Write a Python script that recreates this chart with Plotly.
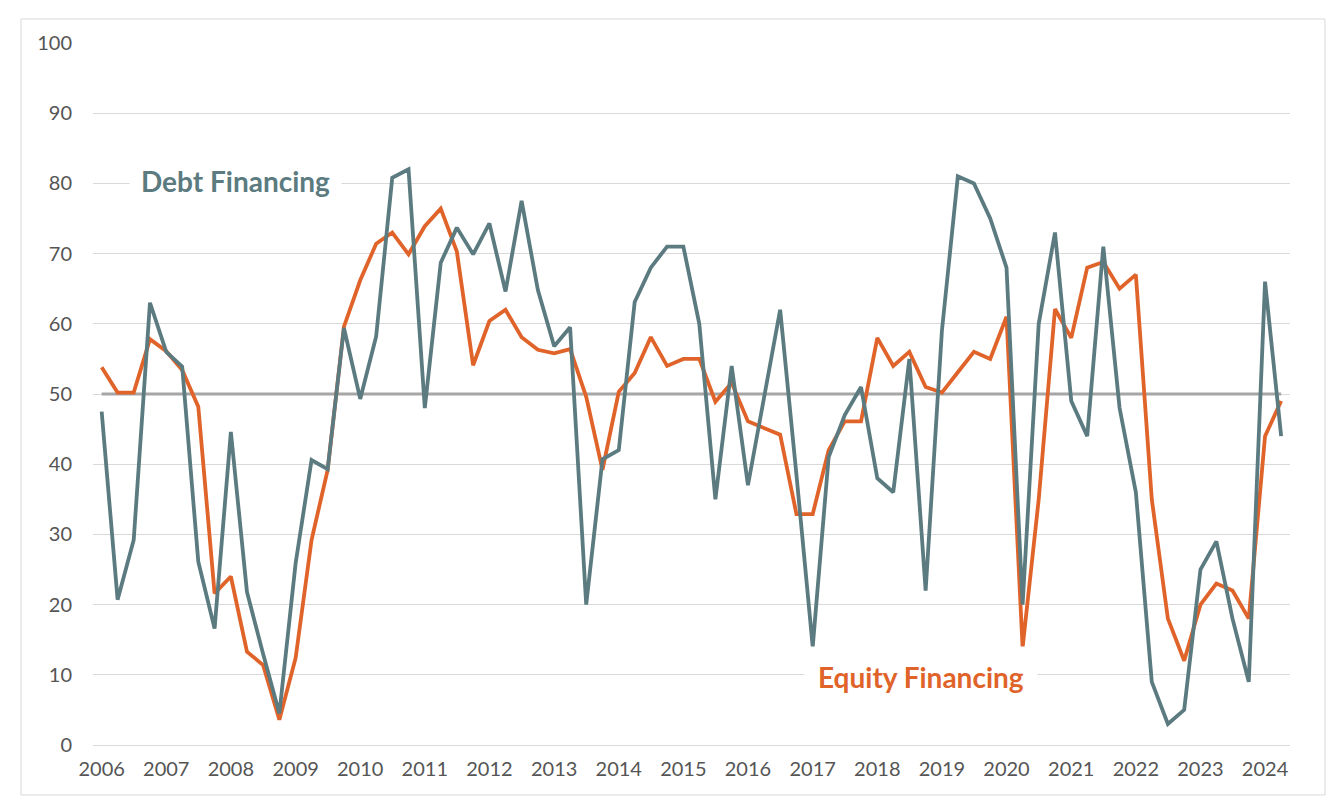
import pandas as pd
import plotly.graph_objects as go

# quarterly survey readings, 2006 Q1 .. 2024 Q2
quarters = pd.date_range("2006-01-01", periods=74, freq="QS")

debt_financing = [
    47.5, 20.7, 29.2, 63.0, 56.0, 53.9, 26.1, 16.6, 44.6, 21.8,
    13.0, 4.5, 25.9, 40.6, 39.3, 59.4, 49.3, 58.2, 80.8, 82.0,
    48.0, 68.7, 73.7, 69.9, 74.3, 64.6, 77.5, 64.8, 56.8, 59.5,
    20.0, 40.7, 42.0, 63.1, 68.0, 71.0, 71.0, 60.0, 35.0, 54.0,
    37.0, 49.5, 62.0, 38.5, 14.0, 41.0, 47.0, 51.0, 38.0, 36.0,
    55.0, 22.0, 59.0, 81.0, 80.0, 75.0, 68.0, 20.0, 60.0, 73.0,
    49.0, 44.0, 71.0, 48.0, 36.0, 9.0, 3.0, 5.0, 25.0, 29.0,
    18.0, 9.0, 66.0, 44.0,
]

equity_financing = [
    53.8, 50.2, 50.2, 57.8, 56.1, 53.4, 48.2, 21.6, 24.0, 13.3,
    11.4, 3.6, 12.4, 29.2, 39.2, 59.6, 66.2, 71.4, 73.0, 69.9,
    73.9, 76.4, 70.3, 54.1, 60.4, 62.0, 58.1, 56.3, 55.8, 56.4,
    49.6, 39.2, 50.3, 53.0, 58.1, 54.0, 55.0, 55.0, 48.9, 51.6,
    46.1, 45.1, 44.2, 32.9, 32.9, 42.0, 46.1, 46.1, 58.0, 54.0,
    56.0, 51.0, 50.2, 53.1, 56.0, 55.0, 61.0, 13.9, 35.0, 62.1,
    58.0, 68.0, 68.8, 65.0, 67.0, 35.0, 18.0, 12.0, 20.0, 23.0,
    22.0, 18.0, 44.0, 49.0,
]

neutral_level = 50

DEBT_COLOR = "#5b7b80"
EQUITY_COLOR = "#e0632a"
TEXT_COLOR = "#555555"
GRID_COLOR = "#d9d9d9"
FONT = "Lato, Open Sans, sans-serif"

fig = go.Figure()

# neutral 50 line, spans the data only
fig.add_trace(go.Scatter(
    x=[quarters[0], quarters[-1]],
    y=[neutral_level, neutral_level],
    mode="lines",
    line=dict(color="#a6a6a6", width=3),
    hoverinfo="skip",
    showlegend=False,
))

fig.add_trace(go.Scatter(
    x=quarters, y=equity_financing, mode="lines", name="Equity Financing",
    line=dict(color=EQUITY_COLOR, width=3.8),
))
fig.add_trace(go.Scatter(
    x=quarters, y=debt_financing, mode="lines", name="Debt Financing",
    line=dict(color=DEBT_COLOR, width=3.8),
))

# series labels sit on white boxes that break the gridlines
fig.add_annotation(
    x="2008-01-30", y=80.3, text="<b>Debt Financing</b>", showarrow=False,
    font=dict(family=FONT, size=28, color=DEBT_COLOR),
    bgcolor="white", borderpad=11,
)
fig.add_annotation(
    x="2018-09-05", y=9.7, text="<b>Equity Financing</b>", showarrow=False,
    font=dict(family=FONT, size=28, color=EQUITY_COLOR),
    bgcolor="white", borderpad=13,
)

# thin frame around the whole chart
fig.add_shape(
    type="rect", xref="paper", yref="paper",
    x0=-0.0602, x1=1.0292, y0=-0.0712, y1=1.0342,
    line=dict(color=GRID_COLOR, width=1), fillcolor="rgba(0,0,0,0)",
    layer="below",
)

fig.update_xaxes(
    type="date",
    range=["2005-11-13", "2024-05-21"],
    tick0="2006-01-01", dtick="M12", tickformat="%Y",
    showgrid=False, zeroline=False, showline=False,
    ticks="", ticklabelstandoff=10,
    tickfont=dict(family=FONT, size=20, color=TEXT_COLOR),
)
fig.update_yaxes(
    range=[0, 100], dtick=10,
    showgrid=True, gridcolor=GRID_COLOR, gridwidth=1,
    zeroline=True, zerolinecolor=GRID_COLOR, zerolinewidth=1,
    showline=False, ticks="", ticklabelstandoff=20,
    tickfont=dict(family=FONT, size=20, color=TEXT_COLOR),
)

# page adds an 8px body margin, so the figure is drawn 16px smaller
fig.update_layout(
    width=1322, height=793,
    margin=dict(l=85, r=40, t=35, b=56),
    plot_bgcolor="white", paper_bgcolor="white",
    showlegend=False,
)

fig.write_html("out.html")
